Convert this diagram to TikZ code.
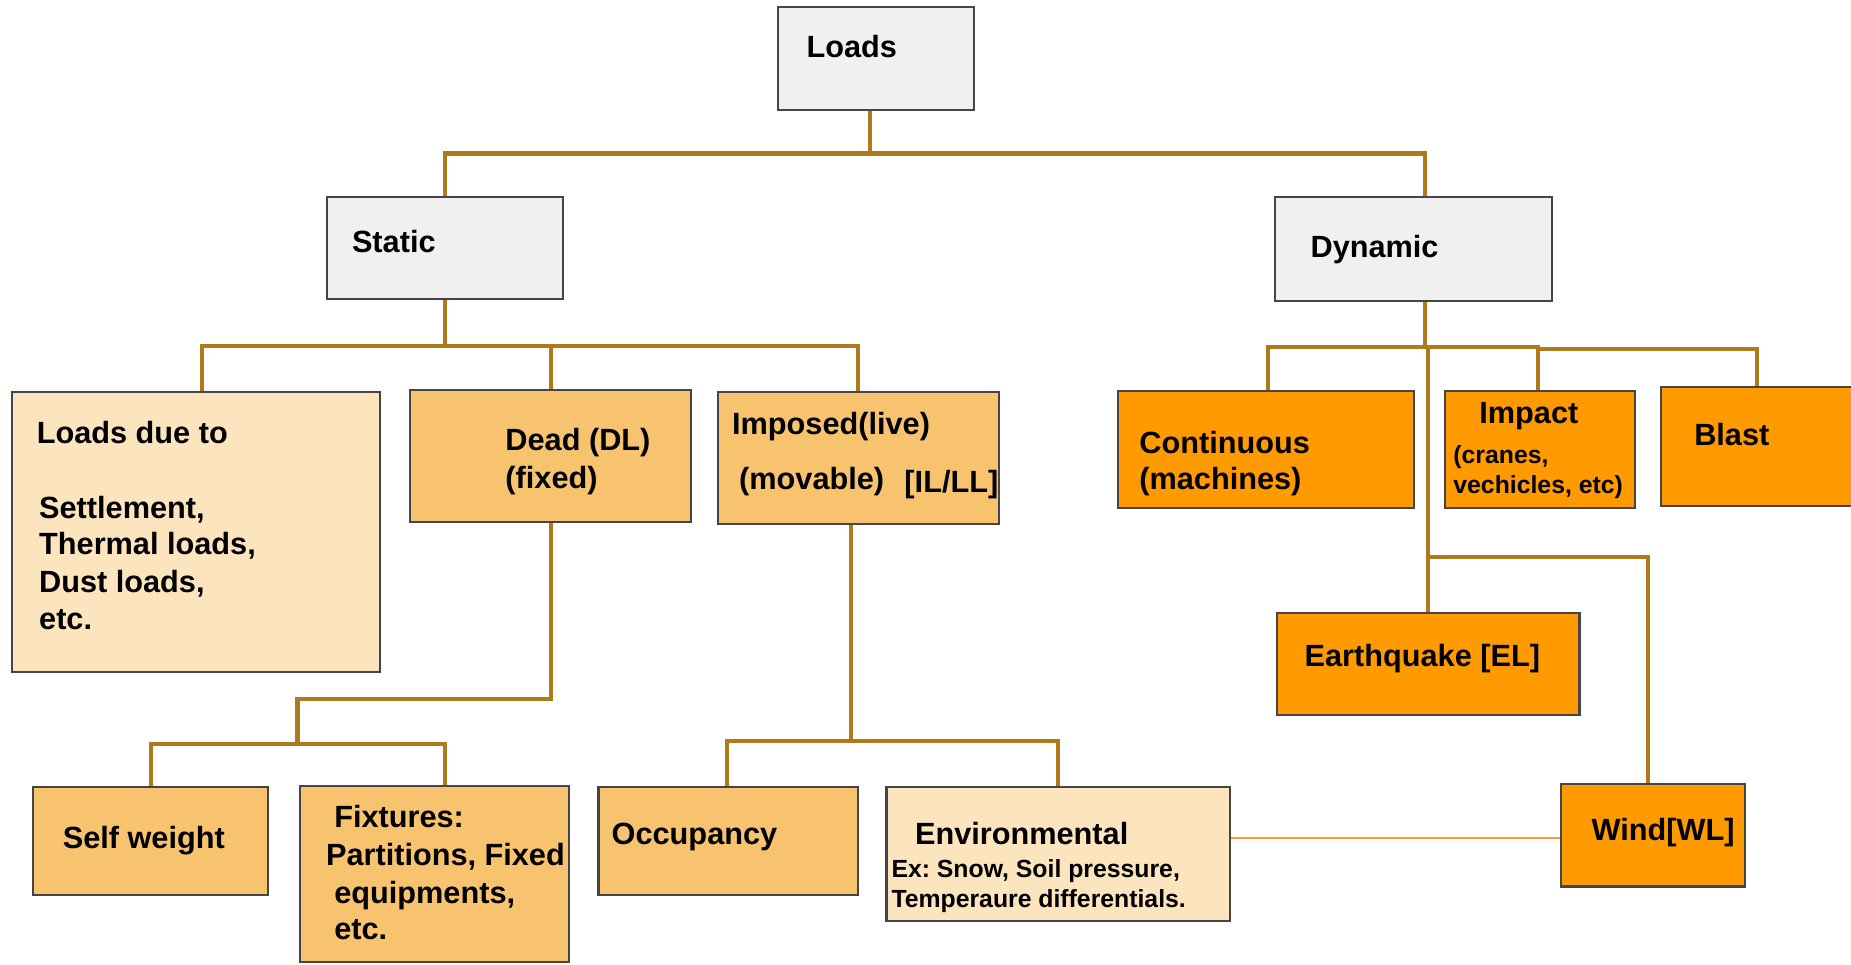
\documentclass[tikz,border=0pt]{standalone}
\usepackage{fontspec}
\setmainfont{Liberation Sans}
\usetikzlibrary{fit}
\definecolor{connc}{HTML}{B07A1A}
\definecolor{boxline}{HTML}{454545}
\definecolor{grayfill}{HTML}{F0F0F0}
\definecolor{peach}{HTML}{FCE4BE}
\definecolor{midor}{HTML}{F7C36E}
\definecolor{strong}{HTML}{FF9A00}
\definecolor{thinor}{HTML}{FF9933}
\frenchspacing
\begin{document}
\begin{tikzpicture}[x=1pt,y=-1pt,
  bx/.style={draw=boxline, line width=1.8pt, inner sep=0pt},
  graybox/.style={bx, fill=grayfill},
  peachbox/.style={bx, fill=peach},
  midbox/.style={bx, fill=midor},
  orbox/.style={bx, fill=strong},
  link/.style={draw=connc, line width=3.5pt},
  txt/.style={anchor=base west, inner sep=0pt, font=\bfseries\fontsize{26}{31}\selectfont},
  smtxt/.style={anchor=base west, inner sep=0pt, font=\bfseries\fontsize{21}{25}\selectfont}]
\useasboundingbox (0,0) rectangle (1568,817);
\fill[white] (0,0) rectangle (1568,817);

% boxes
\node[graybox, fit={(659,6) (825,93)}] (loads) {};
\node[graybox, fit={(277,167) (477,253)}] (static) {};
\node[graybox, fit={(1080,167) (1315,255)}] (dynamic) {};
\node[peachbox, fit={(10,332) (322,569)}] (due) {};
\node[midbox, fit={(347,330) (585,442)}] (dead) {};
\node[midbox, fit={(608,332) (846,444)}] (imposed) {};
\node[midbox, fit={(28,667) (227,758)}] (self) {};
\node[midbox, fit={(254,666) (482,815)}] (fixt) {};
\node[midbox, fit={(507,667) (727,758)}] (occ) {};
\node[peachbox, fit={(751,667) (1042,780)}] (env) {};
\node[orbox, fit={(947,331) (1198,430)}] (cont) {};
\node[orbox, fit={(1224,331) (1385,430)}] (impact) {};
\node[orbox, fit={(1407,328) (1572,429)}] (blast) {};
\node[orbox, fit={(1082,519) (1338,606)}] (quake) {};
\node[orbox, fit={(1322,664) (1478,751)}] (wind) {};

% texts
\node[txt] (tloads) at (683,49) {Loads};
\node[txt] (tstatic) at (298,214) {Static};
\node[txt] (tdyn) at (1110,218) {Dynamic};
\node[txt] (tdue1) at (31,376) {Loads due to};
\node[txt] (tdue2) at (33,439) {Settlement,};
\node[txt] (tdue3) at (33,470) {Thermal loads,};
\node[txt] (tdue4) at (33,502) {Dust loads,};
\node[txt] (tdue5) at (33,533) {etc.};
\node[txt] (tdead1) at (428,382) {Dead (DL)};
\node[txt] (tdead2) at (428,414) {(fixed)};
\node[txt] (timp1) at (620,368) {Imposed(live)};
\node[txt] (timp2) at (626,415) {(movable)};
\node[txt] (timp3) at (766,417) {[IL/LL]};
\node[txt] (tself) at (53,719) {Self weight};
\node[txt] (tfix1) at (283,701) {Fixtures:};
\node[txt] (tfix2) at (276,733) {Partitions, Fixed};
\node[txt] (tfix3) at (283,765) {equipments,};
\node[txt] (tfix4) at (283,796) {etc.};
\node[txt] (tocc) at (518,715) {Occupancy};
\node[txt] (tenv1) at (775,715) {Environmental};
\node[smtxt] (tenv2) at (755,743) {Ex: Snow, Soil pressure,};
\node[smtxt] (tenv3) at (755,769) {Temperaure differentials.};
\node[txt] (tcont1) at (965,384) {Continuous};
\node[txt] (tcont2) at (965,415) {(machines)};
\node[txt] (timpa1) at (1253,359) {Impact};
\node[smtxt] (timpa2) at (1231,393) {(cranes,};
\node[smtxt] (timpa3) at (1231,418) {vechicles, etc)};
\node[txt] (tblast) at (1435,377) {Blast};
\node[txt] (tquake) at (1105,565) {Earthquake [EL]};
\node[txt] (twind) at (1348,712) {Wind[WL]};

% connectors
\coordinate (j0) at (737,130);
\draw[link] (loads.south -| 737,0) -- (j0);
\draw[link] (static.north) |- (j0) -| (dynamic.north -| 1207,0);

\coordinate (js) at (377,293);
\draw[link] (static.south) -- (js);
\draw[link] (due.north -| 171,0) |- (js) -| (imposed.north -| 727,0);
\draw[link] (dead.north -| 467,0) -- (467,293);

\coordinate (jd) at (252,630);
\draw[link] (dead.south -| 467,0) |- (252,592) -- (jd);
\draw[link] (self.north -| 128,0) |- (jd) -| (fixt.north -| 377,0);

\coordinate (ji) at (721,628);
\draw[link] (imposed.south -| 721,0) -- (ji);
\draw[link] (occ.north -| 616,0) |- (ji) -| (env.north -| 896,0);

\coordinate (jdy) at (1207,294);
\coordinate (jdy2) at (1210,294);
\coordinate (jw) at (1210,472);
\draw[link] (dynamic.south -| 1207,0) -- (jdy);
\draw[link] (cont.north -| 1074,0) |- (1303,294) -- (1303,296) -- (1488,296) -- (blast.north -| 1488,0);
\draw[link] (impact.north -| 1303,0) -- (1303,296);
\draw[link] (jdy2) -- (quake.north -| 1210,0);
\draw[link] (jw) -| (wind.north -| 1396,0);

\draw[draw=thinor, line width=1.5pt] (env.east |- 0,710) -- (wind.west |- 0,710);
\end{tikzpicture}
\end{document}
